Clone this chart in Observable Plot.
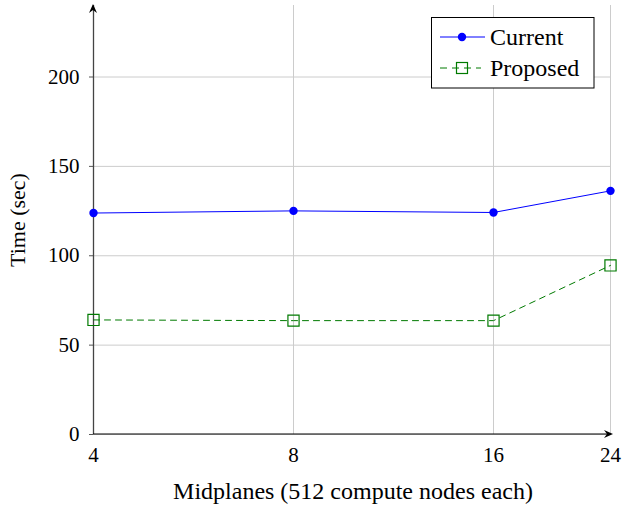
<!DOCTYPE html>
<html><head><meta charset="utf-8">
<script src="https://cdn.jsdelivr.net/npm/d3@7"></script>
<script src="https://cdn.jsdelivr.net/npm/@observablehq/plot@0.6"></script>
<style>
body{margin:0;background:#fff}
#chart{position:relative;width:623px;height:506px}
svg{font-family:"Liberation Serif","DejaVu Serif",serif}
</style>
</head><body><div id="chart"></div>
<script>
const midplanes = [4, 8, 16, 24];
const currentTime = [123.9, 125.1, 124.2, 136.3];
const proposedTime = [64.1, 63.7, 63.7, 94.6];
const xTicks = [4, 8, 16, 24];
const yTicks = [0, 50, 100, 150, 200];
const seriesNames = ["Current", "Proposed"];
const xLabel = "Midplanes (512 compute nodes each)";
const yLabel = "Time (sec)";

const current = midplanes.map((m, i) => ({m, t: currentTime[i]}));
const proposed = midplanes.map((m, i) => ({m, t: proposedTime[i]}));

const blue = "#0000ff", green = "#007a00", grid = "#cccccc";

const chart = Plot.plot({
  width: 623,
  height: 506,
  marginLeft: 93,
  marginRight: 13,
  marginTop: 5,
  marginBottom: 72,
  style: {fontFamily: "Liberation Serif, DejaVu Serif, serif", fontSize: "21px", background: "#fff"},
  x: {type: "log", base: 2, domain: [4, 24]},
  y: {domain: [0, 240]},
  marks: [
    Plot.gridY(yTicks, {stroke: grid, strokeOpacity: 1}),
    Plot.gridX(xTicks, {stroke: grid, strokeOpacity: 1}),
    Plot.axisY(yTicks, {tickSize: 4, tickPadding: 10, stroke: "#555", label: null, fontSize: 21, fill: "#000"}),
    Plot.axisX(xTicks, {tickSize: 0, tickPadding: 13, tickFormat: d => String(d), label: null, fontSize: 21, fill: "#000"}),
    Plot.ruleX([4], {stroke: "#444", strokeWidth: 1.3}),
    Plot.line(proposed, {x: "m", y: "t", stroke: green, strokeWidth: 1, strokeDasharray: "6,5"}),
    Plot.dot(proposed, {x: "m", y: "t", symbol: "square", r: 6.3, stroke: green, strokeWidth: 1.2, fill: "none"}),
    Plot.line(current, {x: "m", y: "t", stroke: blue, strokeWidth: 1}),
    Plot.dot(current, {x: "m", y: "t", r: 4.2, fill: blue, stroke: "none"})
  ]
});

document.getElementById("chart").appendChild(chart);

const svg = d3.select(chart);
const sx = chart.scale("x"), sy = chart.scale("y");
const x0 = sx.apply(4), y0 = sy.apply(0);
const xR = 613, yT = 4;
// x axis line and arrowheads
svg.append("line").attr("x1", x0).attr("x2", xR - 5).attr("y1", y0).attr("y2", y0).attr("stroke", "#000").attr("stroke-width", 1.1);
svg.append("path").attr("d", `M${x0-4},${yT+9} L${x0},${yT} L${x0+4},${yT+9} L${x0},${yT+6}Z`).attr("fill", "#000");
svg.append("path").attr("d", `M${xR-9},${y0-4} L${xR},${y0} L${xR-9},${y0+4} L${xR-6},${y0}Z`).attr("fill", "#000");

// axis labels
svg.append("text").text(xLabel).attr("x", 353).attr("y", 499).attr("text-anchor", "middle").attr("font-size", 24).attr("fill", "#000");
svg.append("text").text(yLabel).attr("transform", "translate(25,220) rotate(-90)").attr("text-anchor", "middle").attr("font-size", 22).attr("fill", "#000");

// legend
const lg = svg.append("g");
lg.append("rect").attr("x", 431.5).attr("y", 17.5).attr("width", 162.5).attr("height", 70.5).attr("fill", "#fff").attr("stroke", "#000").attr("stroke-width", 1);
const rows = [37, 68];
lg.append("line").attr("x1", 440).attr("x2", 485).attr("y1", rows[0]).attr("y2", rows[0]).attr("stroke", blue).attr("stroke-width", 1);
lg.append("circle").attr("cx", 462).attr("cy", rows[0]).attr("r", 4.2).attr("fill", blue);
lg.append("line").attr("x1", 440).attr("x2", 481).attr("y1", rows[1]).attr("y2", rows[1]).attr("stroke", green).attr("stroke-width", 1).attr("stroke-dasharray", "7,5");
lg.append("rect").attr("x", 456.5).attr("y", rows[1]-5.5).attr("width", 11).attr("height", 11).attr("fill", "none").attr("stroke", green).attr("stroke-width", 1.2);
seriesNames.forEach((n, i) => {
  lg.append("text").text(n).attr("x", 490).attr("y", rows[i]).attr("dy", "0.33em").attr("text-anchor", "start").attr("font-size", 24).attr("fill", "#000");
});
</script>
</body></html>
